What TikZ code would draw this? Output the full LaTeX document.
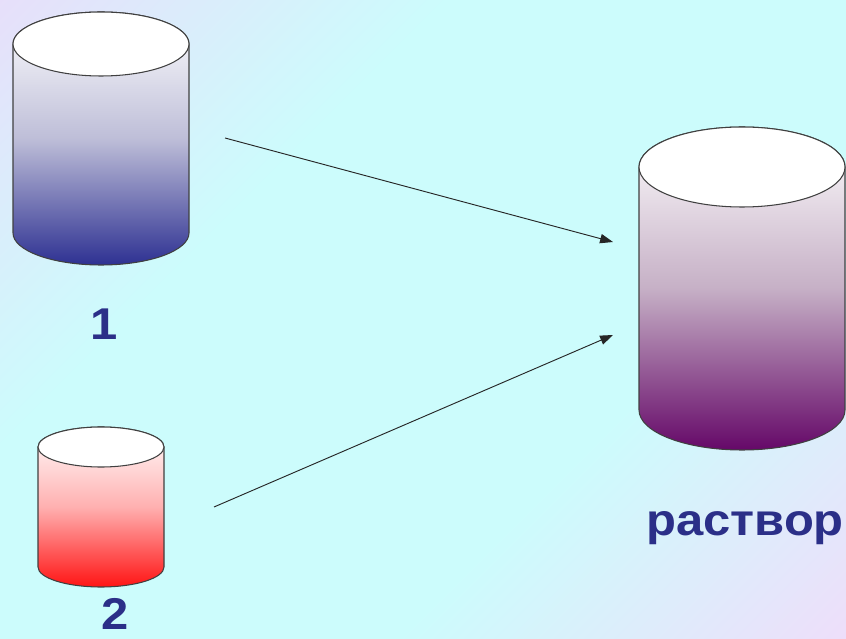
\documentclass[tikz,border=0pt]{standalone}
\usepackage{fontspec}
\setmainfont{Liberation Sans}
\usetikzlibrary{arrows.meta}
\definecolor{bgcyan}{HTML}{CCFCFC}
\definecolor{bglavender}{HTML}{F0DCFA}
\definecolor{bglilac}{HTML}{EADCFA}
\definecolor{labelblue}{HTML}{2B2F88}
\definecolor{waterblue}{HTML}{2E3192}
\definecolor{watermid}{HTML}{BEBED8}
\definecolor{saltred}{HTML}{FF1414}
\definecolor{saltmid}{HTML}{FFB0B0}
\definecolor{mixpurple}{HTML}{650868}
\definecolor{mixmid}{HTML}{C6B0C6}
\pgfdeclareverticalshading{bgsheen}{100bp}{color(0bp)=(bglavender); color(13bp)=(bglavender); color(36bp)=(bgcyan); color(64bp)=(bgcyan); color(88bp)=(bglilac); color(100bp)=(bglilac)}
% vessel: [bottom colour][middle colour](centre x, top y, bottom y)(x radius:y radius)
\def\vessel[#1][#2](#3,#4,#5)(#6:#7){%
\shade[top color=white, bottom color=#1, middle color=#2, draw=black!75, line width=0.9pt] (#3-#6,#4) -- (#3-#6,#5) arc (180:360:#6 and #7) -- (#3+#6,#4) arc (0:180:#6 and #7) -- cycle;
\draw[fill=white, draw=black!75, line width=0.9pt] (#3,#4) ellipse (#6 and #7);}

\begin{document}
\begin{tikzpicture}[x=0.03cm, y=0.03cm]
			%%%%% START %%%%%
			\useasboundingbox (0,0) rectangle (846,638);
			
			\shade[shading=bgsheen, shading angle=45] (0,0) rectangle (846,638);
			
			\vessel[waterblue][watermid](101,594,405)(88:32);
			\vessel[saltred][saltmid](101,191,71)(63:20);
			\vessel[mixpurple][mixmid](742,471,228)(103:40);
			
			\node[anchor=base, inner sep=0, xscale=1.1, color=labelblue, font=\fontsize{38}{40}\selectfont\bfseries] (one) at (104,298) {1};
			\node[anchor=base, inner sep=0, xscale=1.1, color=labelblue, font=\fontsize{38}{40}\selectfont\bfseries] (two) at (115,9) {2};
			\node[anchor=base, inner sep=0, xscale=1.1, color=labelblue, font=\fontsize{38}{40}\selectfont\bfseries] (mix) at (745,103) {раствор};
			
			\coordinate (from1) at (225,500);
			\coordinate (to1) at (613,396);
			\coordinate (from2) at (214,131);
			\coordinate (to2) at (613,303);
			\draw[line width=0.8pt, color=black!85, -{Triangle[length=11pt, width=8pt]}] (from1) -- (to1);
			\draw[line width=0.8pt, color=black!85, -{Triangle[length=11pt, width=8pt]}] (from2) -- (to2);
			
			%%%%% END %%%%%
		\end{tikzpicture}
\end{document}
